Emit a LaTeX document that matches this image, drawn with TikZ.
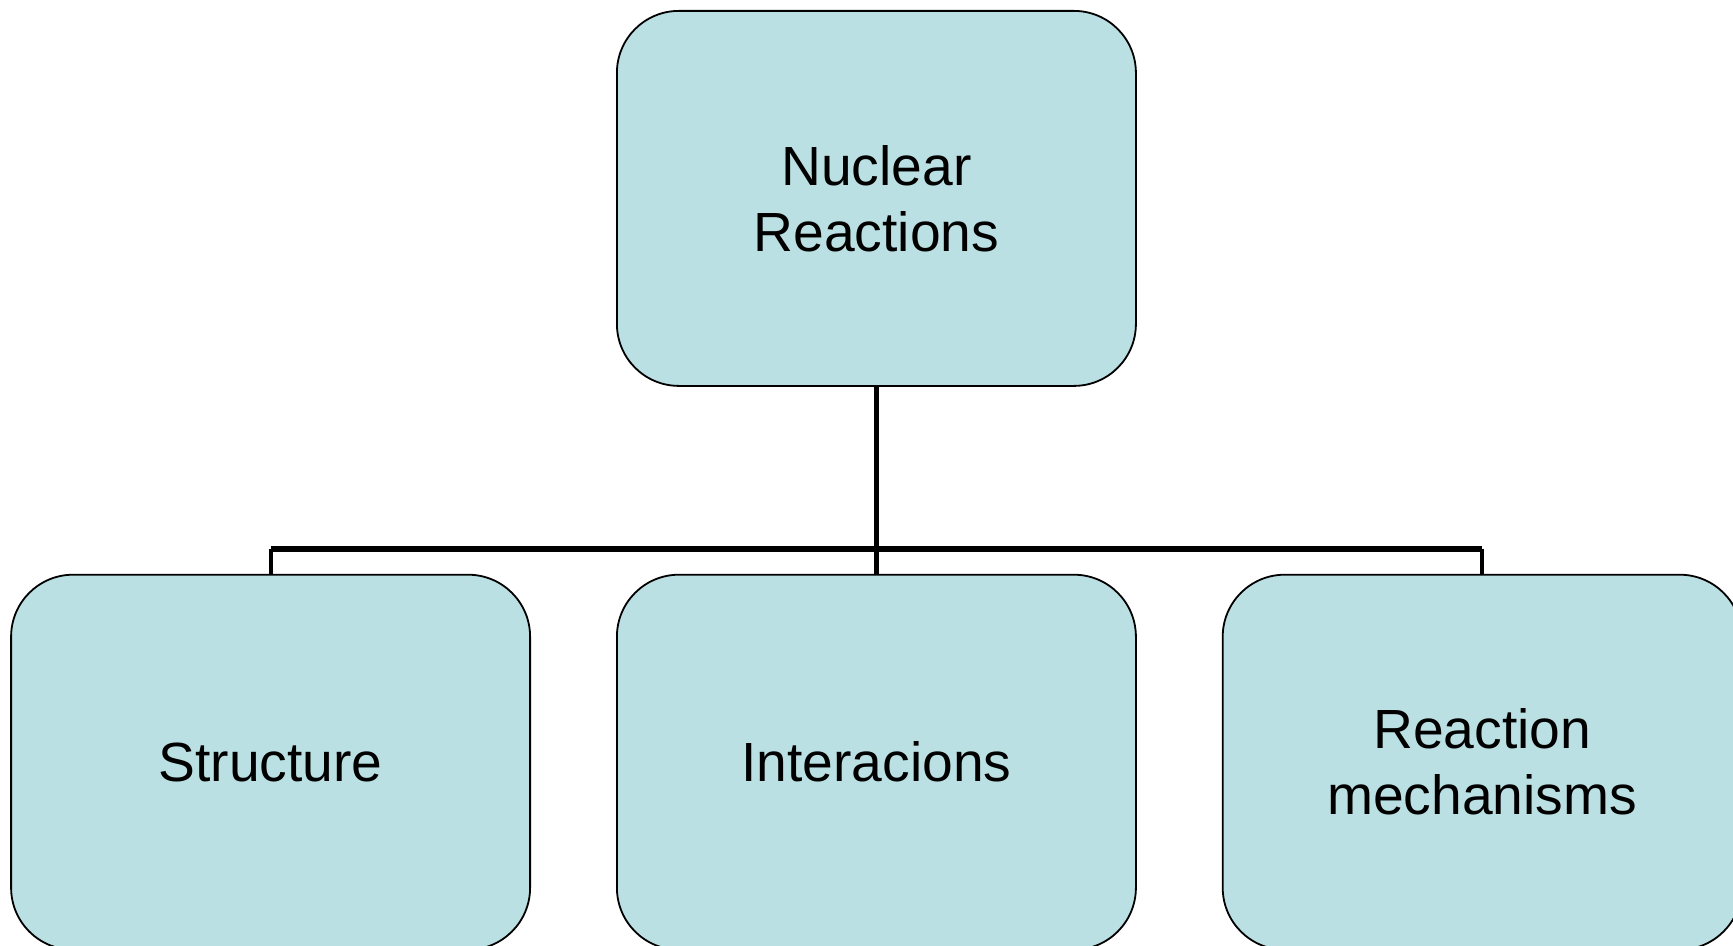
\documentclass[tikz,border=0pt]{standalone}
\usepackage{fontspec}
\setmainfont{Liberation Sans}
\usepackage{xcolor}
\usetikzlibrary{positioning, calc}
\definecolor{boxfill}{RGB}{187,224,227}
\tikzset{
  topic/.style = {rectangle, draw, rounded corners=31pt,
                  fill=boxfill, line width=0.9pt, align=center,
                  minimum width=259.5pt, minimum height=187.5pt,
                  inner sep=0pt,
                  font=\fontsize{27.6}{33}\selectfont},
  link/.style  = {line width=2.1pt},
  bus/.style   = {line width=2.9pt},
}

\begin{document}
\begin{tikzpicture}[node distance=93.5pt and 42.5pt]

\useasboundingbox (0,0) rectangle (866.5pt,-473pt);

% ── Top topic ────────────────────────────────────────────
\node[topic, anchor=north west] (nuclear) at (308pt,-5pt)
      {Nuclear\\Reactions};

% ── Sub topics ───────────────────────────────────────────
\node[topic, below=of nuclear] (inter) {Interacions};
\node[topic, left=of inter]  (struct) {Structure};
\node[topic, right=of inter] (mech)   {Reaction\\mechanisms};

% ── Connectors ───────────────────────────────────────────
\coordinate (busL) at ([yshift=12.5pt]struct.north);
\coordinate (busR) at ([yshift=12.5pt]mech.north);

\draw[link] (nuclear.south) -- (inter.north);
\draw[bus]  (busL) -- (busR);
\draw[link] (busL) -- (struct.north);
\draw[link] (busR) -- (mech.north);

\end{tikzpicture}
\end{document}
